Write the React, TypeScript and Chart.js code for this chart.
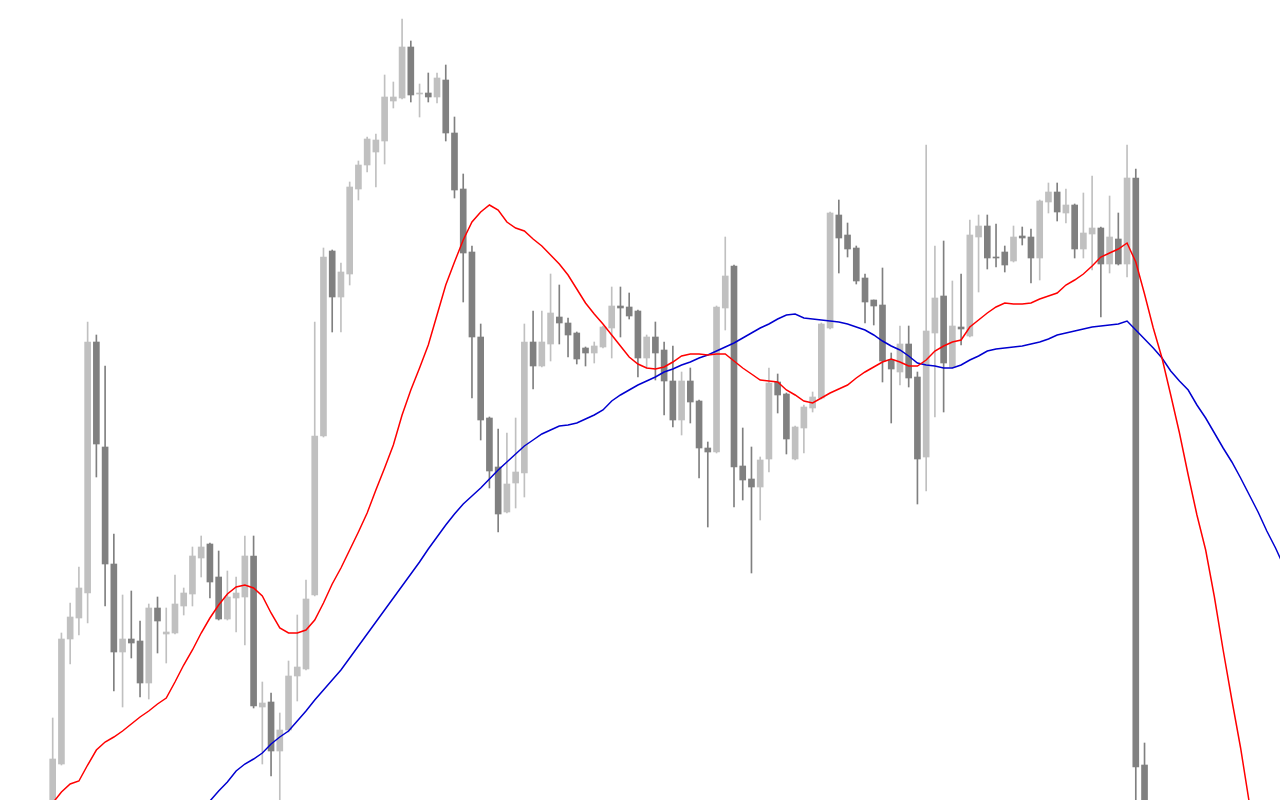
import React, { useEffect, useRef } from "react";
import { Chart, registerables } from "chart.js";

Chart.register(...registerables);

// Candle data (index 0 = first visible candle)
const opens = [
  1.2185, 1.2236, 1.2361, 1.2382, 1.2407, 1.2658, 1.2553, 1.2436, 1.2348, 1.2361,
  1.2359, 1.2317, 1.2392, 1.2366, 1.2367, 1.2394, 1.2406, 1.2442, 1.2456, 1.2423,
  1.2381, 1.2402, 1.2403, 1.2444, 1.2293, 1.2298, 1.2249, 1.2270, 1.2324, 1.2331,
  1.2405, 1.2564, 1.2749, 1.2703, 1.2726, 1.2811, 1.2835, 1.2848, 1.2859, 1.2899,
  1.2902, 1.2953, 1.2906, 1.2907, 1.2903, 1.2920, 1.2867, 1.2811, 1.2748, 1.2663,
  1.2582, 1.2533, 1.2488, 1.2517, 1.2527, 1.2658, 1.2634, 1.2656, 1.2683, 1.2677,
  1.2667, 1.2652, 1.2647, 1.2653, 1.2672, 1.2694, 1.2693, 1.2689, 1.2642, 1.2663,
  1.2650, 1.2619, 1.2580, 1.2619, 1.2599, 1.2552, 1.2548, 1.2692, 1.2734, 1.2534,
  1.2521, 1.2513, 1.2541, 1.2618, 1.2606, 1.2541, 1.2572, 1.2592, 1.2602, 1.2672,
  1.2785, 1.2765, 1.2752, 1.2722, 1.2700, 1.2695, 1.2640, 1.2628, 1.2656, 1.2623,
  1.2543, 1.2667, 1.2704, 1.2633, 1.2673, 1.2664, 1.2763, 1.2774, 1.2743, 1.2748,
  1.2739, 1.2764, 1.2763, 1.2742, 1.2798, 1.2808, 1.2787, 1.2795, 1.2751, 1.2766,
  1.2772, 1.2736, 1.2761, 1.2736, 1.2822, 1.2235,
];
const highs = [
  1.2282, 1.2367, 1.2397, 1.2433, 1.2678, 1.2665, 1.2634, 1.2466, 1.2405, 1.2409,
  1.2379, 1.2396, 1.2403, 1.2392, 1.2425, 1.2412, 1.2453, 1.2464, 1.2457, 1.2449,
  1.2429, 1.2423, 1.2464, 1.2464, 1.2318, 1.2307, 1.2287, 1.2339, 1.2385, 1.2420,
  1.2678, 1.2752, 1.2750, 1.2737, 1.2818, 1.2839, 1.2863, 1.2866, 1.2925, 1.2918,
  1.2981, 1.2959, 1.2916, 1.2927, 1.2927, 1.2935, 1.2883, 1.2826, 1.2754, 1.2676,
  1.2583, 1.2571, 1.2567, 1.2582, 1.2676, 1.2689, 1.2689, 1.2726, 1.2715, 1.2682,
  1.2668, 1.2653, 1.2658, 1.2674, 1.2713, 1.2713, 1.2707, 1.2690, 1.2665, 1.2678,
  1.2658, 1.2654, 1.2628, 1.2632, 1.2600, 1.2558, 1.2694, 1.2763, 1.2735, 1.2572,
  1.2553, 1.2543, 1.2632, 1.2626, 1.2607, 1.2574, 1.2595, 1.2608, 1.2677, 1.2788,
  1.2800, 1.2777, 1.2754, 1.2726, 1.2700, 1.2732, 1.2647, 1.2674, 1.2674, 1.2628,
  1.2855, 1.2754, 1.2759, 1.2719, 1.2726, 1.2780, 1.2785, 1.2785, 1.2776, 1.2754,
  1.2774, 1.2773, 1.2771, 1.2800, 1.2817, 1.2817, 1.2811, 1.2796, 1.2807, 1.2824,
  1.2773, 1.2804, 1.2787, 1.2855, 1.2831, 1.2257,
];
const lows = [
  1.2178, 1.2235, 1.2336, 1.2365, 1.2377, 1.2523, 1.2394, 1.2309, 1.2293, 1.2342,
  1.2303, 1.2301, 1.2347, 1.2337, 1.2366, 1.2385, 1.2394, 1.2423, 1.2402, 1.2380,
  1.2380, 1.2368, 1.2355, 1.2292, 1.2236, 1.2224, 1.2195, 1.2268, 1.2299, 1.2330,
  1.2404, 1.2563, 1.2668, 1.2668, 1.2715, 1.2800, 1.2828, 1.2813, 1.2836, 1.2892,
  1.2901, 1.2898, 1.2883, 1.2898, 1.2897, 1.2859, 1.2802, 1.2698, 1.2602, 1.2560,
  1.2512, 1.2468, 1.2487, 1.2492, 1.2503, 1.2611, 1.2633, 1.2639, 1.2656, 1.2643,
  1.2636, 1.2634, 1.2637, 1.2652, 1.2642, 1.2663, 1.2681, 1.2623, 1.2632, 1.2620,
  1.2585, 1.2573, 1.2565, 1.2577, 1.2522, 1.2473, 1.2547, 1.2670, 1.2493, 1.2500,
  1.2427, 1.2480, 1.2528, 1.2587, 1.2546, 1.2540, 1.2547, 1.2588, 1.2601, 1.2671,
  1.2727, 1.2743, 1.2716, 1.2677, 1.2675, 1.2618, 1.2577, 1.2615, 1.2613, 1.2496,
  1.2509, 1.2583, 1.2588, 1.2632, 1.2655, 1.2663, 1.2708, 1.2731, 1.2733, 1.2728,
  1.2738, 1.2755, 1.2717, 1.2720, 1.2787, 1.2779, 1.2777, 1.2742, 1.2742, 1.2730,
  1.2683, 1.2727, 1.2735, 1.2723, 1.2170, 1.2100,
];
const closes = [
  1.2241, 1.2361, 1.2383, 1.2412, 1.2658, 1.2556, 1.2436, 1.2348, 1.2361, 1.2357,
  1.2317, 1.2392, 1.2379, 1.2368, 1.2396, 1.2407, 1.2444, 1.2453, 1.2418, 1.2381,
  1.2403, 1.2407, 1.2444, 1.2294, 1.2297, 1.2249, 1.2270, 1.2324, 1.2333, 1.2401,
  1.2564, 1.2743, 1.2703, 1.2728, 1.2813, 1.2835, 1.2861, 1.2860, 1.2903, 1.2903,
  1.2953, 1.2905, 1.2907, 1.2903, 1.2922, 1.2867, 1.2810, 1.2747, 1.2663, 1.2580,
  1.2529, 1.2486, 1.2516, 1.2528, 1.2658, 1.2634, 1.2658, 1.2687, 1.2677, 1.2665,
  1.2641, 1.2647, 1.2654, 1.2673, 1.2694, 1.2692, 1.2684, 1.2642, 1.2663, 1.2647,
  1.2619, 1.2580, 1.2619, 1.2598, 1.2552, 1.2548, 1.2693, 1.2724, 1.2533, 1.2520,
  1.2513, 1.2540, 1.2617, 1.2605, 1.2561, 1.2573, 1.2593, 1.2603, 1.2676, 1.2787,
  1.2762, 1.2751, 1.2719, 1.2698, 1.2694, 1.2639, 1.2631, 1.2656, 1.2622, 1.2541,
  1.2669, 1.2702, 1.2637, 1.2674, 1.2671, 1.2765, 1.2774, 1.2742, 1.2742, 1.2735,
  1.2763, 1.2762, 1.2742, 1.2799, 1.2808, 1.2788, 1.2795, 1.2751, 1.2767, 1.2772,
  1.2736, 1.2763, 1.2736, 1.2822, 1.2233, 1.2120,
];

// Fast moving average (red), starts at candle index -1
const redStart = -1;
const redMA = [
  1.2188, 1.2197, 1.2208, 1.2216, 1.2219, 1.2235, 1.2250, 1.2258, 1.2263, 1.2269,
  1.2276, 1.2283, 1.2289, 1.2296, 1.2302, 1.2318, 1.2335, 1.2350, 1.2367, 1.2382,
  1.2395, 1.2406, 1.2413, 1.2415, 1.2412, 1.2404, 1.2387, 1.2372, 1.2367, 1.2367,
  1.2370, 1.2380, 1.2397, 1.2416, 1.2432, 1.2450, 1.2468, 1.2487, 1.2510, 1.2532,
  1.2555, 1.2585, 1.2610, 1.2632, 1.2655, 1.2685, 1.2715, 1.2738, 1.2760, 1.2778,
  1.2788, 1.2795, 1.2790, 1.2778, 1.2772, 1.2769, 1.2761, 1.2754, 1.2745, 1.2736,
  1.2725, 1.2711, 1.2697, 1.2686, 1.2676, 1.2665, 1.2654, 1.2643, 1.2636, 1.2632,
  1.2631, 1.2633, 1.2638, 1.2644, 1.2646, 1.2646, 1.2645, 1.2646, 1.2646, 1.2639,
  1.2632, 1.2626, 1.2620, 1.2619, 1.2618, 1.2610, 1.2605, 1.2599, 1.2597, 1.2602,
  1.2607, 1.2611, 1.2615, 1.2622, 1.2628, 1.2633, 1.2638, 1.2641, 1.2638, 1.2634,
  1.2634, 1.2640, 1.2649, 1.2654, 1.2658, 1.2660, 1.2673, 1.2680, 1.2687, 1.2693,
  1.2697, 1.2696, 1.2696, 1.2697, 1.2701, 1.2704, 1.2707, 1.2715, 1.2720, 1.2726,
  1.2734, 1.2743, 1.2747, 1.2751, 1.2757, 1.2738, 1.2706, 1.2672, 1.2642, 1.2605,
  1.2567, 1.2525, 1.2485, 1.2450, 1.2403, 1.2350, 1.2300, 1.2252, 1.2197, 1.2140,
];

// Slow moving average (blue), starts at candle index 16
const blueStart = 16;
const blueMA = [
  1.2170, 1.2185, 1.2199, 1.2209, 1.2218, 1.2229, 1.2236, 1.2241, 1.2247, 1.2256,
  1.2263, 1.2269, 1.2279, 1.2289, 1.2300, 1.2310, 1.2320, 1.2330, 1.2342, 1.2354,
  1.2366, 1.2378, 1.2390, 1.2402, 1.2414, 1.2426, 1.2438, 1.2451, 1.2463, 1.2475,
  1.2486, 1.2496, 1.2504, 1.2512, 1.2521, 1.2530, 1.2538, 1.2546, 1.2554, 1.2560,
  1.2566, 1.2570, 1.2574, 1.2575, 1.2577, 1.2581, 1.2585, 1.2590, 1.2599, 1.2605,
  1.2610, 1.2615, 1.2619, 1.2623, 1.2628, 1.2631, 1.2635, 1.2638, 1.2642, 1.2645,
  1.2649, 1.2653, 1.2657, 1.2662, 1.2667, 1.2672, 1.2676, 1.2681, 1.2685, 1.2686,
  1.2682, 1.2681, 1.2680, 1.2679, 1.2678, 1.2676, 1.2673, 1.2670, 1.2665, 1.2659,
  1.2654, 1.2650, 1.2644, 1.2637, 1.2635, 1.2634, 1.2632, 1.2632, 1.2635, 1.2640,
  1.2644, 1.2649, 1.2651, 1.2652, 1.2653, 1.2654, 1.2656, 1.2658, 1.2661, 1.2665,
  1.2667, 1.2669, 1.2671, 1.2673, 1.2674, 1.2675, 1.2676, 1.2679, 1.2670, 1.2661,
  1.2652, 1.2642, 1.2629, 1.2619, 1.2610, 1.2595, 1.2582, 1.2567, 1.2552, 1.2538,
  1.2522, 1.2505, 1.2488, 1.2469, 1.2452, 1.2433,
];

const UP_COLOR = "#c0c0c0";
const DOWN_COLOR = "#808080";
const RED = "#ff0000";
const BLUE = "#0000d0";

const X_MIN = -6.033;
const X_MAX = 140.51;
const Y_MIN = 1.22;
const Y_MAX = 1.3;

export default function App() {
  const canvasRef = useRef<HTMLCanvasElement | null>(null);

  useEffect(() => {
    const canvas = canvasRef.current;
    if (!canvas) return;
    const colors = opens.map((o, i) => (closes[i] >= o ? UP_COLOR : DOWN_COLOR));
    const wicks = opens.map((_, i) => ({ x: i, y: [lows[i], highs[i]] }));
    const bodies = opens.map((o, i) => ({ x: i, y: [o, closes[i]] }));
    const red = redMA.map((v, k) => ({ x: redStart + k, y: v }));
    const blue = blueMA.map((v, k) => ({ x: blueStart + k, y: v }));

    const chart = new Chart(canvas, {
      type: "bar",
      data: {
        datasets: [
          {
            type: "line",
            data: red as any,
            borderColor: RED,
            borderWidth: 1.5,
            pointRadius: 0,
            tension: 0,
            fill: false,
            order: 0,
          },
          {
            type: "line",
            data: blue as any,
            borderColor: BLUE,
            borderWidth: 1.5,
            pointRadius: 0,
            tension: 0,
            fill: false,
            order: 1,
          },
          {
            type: "bar",
            data: bodies as any,
            backgroundColor: colors,
            borderWidth: 0,
            barThickness: 6,
            grouped: false,
            order: 2,
          },
          {
            type: "bar",
            data: wicks as any,
            backgroundColor: colors,
            borderWidth: 0,
            barThickness: 1,
            grouped: false,
            order: 3,
          },
        ],
      },
      options: {
        animation: false,
        responsive: false,
        maintainAspectRatio: false,
        devicePixelRatio: 1,
        events: [],
        layout: { padding: 0 },
        plugins: {
          legend: { display: false },
          tooltip: { enabled: false },
        },
        scales: {
          x: {
            type: "linear",
            min: X_MIN,
            max: X_MAX,
            offset: false,
            display: false,
          },
          y: {
            type: "linear",
            min: Y_MIN,
            max: Y_MAX,
            display: false,
          },
        },
      } as any,
    });
    return () => chart.destroy();
  }, []);

  return (
    <div
      style={{
        position: "fixed",
        left: 0,
        top: 0,
        width: 1280,
        height: 800,
        background: "#ffffff",
      }}
    >
      <canvas ref={canvasRef} width={1280} height={800} />
    </div>
  );
}
